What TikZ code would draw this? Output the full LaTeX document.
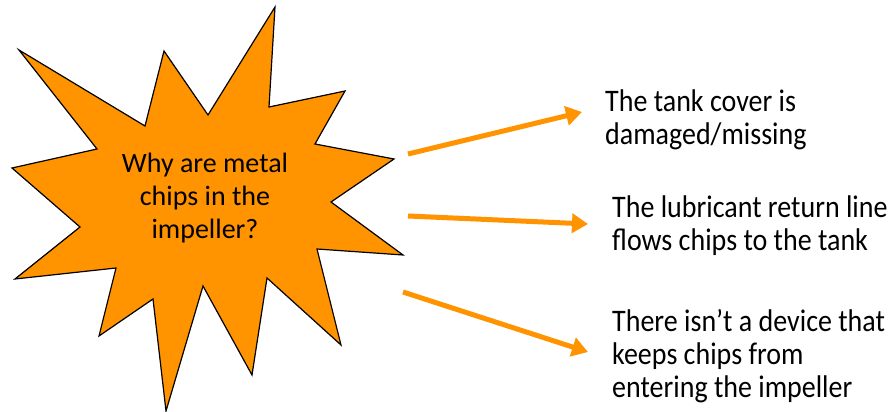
\documentclass[tikz,border=0pt]{standalone}
\usepackage{fontspec}
\setmainfont{Carlito}
\usetikzlibrary{arrows.meta}
\definecolor{burst}{RGB}{255,147,0}
\tikzset{
	reason/.style={anchor=base west, inner sep=0pt, align=left, font=\fontsize{28}{29.5}\selectfont, yscale=1.12, transform shape},
	whyarrow/.style={line width=5pt, color=burst, -{Triangle[length=16pt,width=19pt]}}
}

\begin{document}
\begin{tikzpicture}[x=1pt, y=1pt]
			%%%%% START %%%%%
			
			\useasboundingbox (0, 0) rectangle (891, 412);
			
			% the burst
			\draw[line width=1.2pt, fill=burst, line join=miter] (19, 362) -- (145, 286) -- (164, 361) -- (208, 297)
				-- (275, 405) -- (269, 305) -- (345, 321) -- (315, 268) -- (394, 253) -- (331, 210)
				-- (403, 157) -- (317, 163) -- (341, 67) -- (267, 134) -- (252, 37) -- (203, 126)
				-- (166, 1) -- (153, 113) -- (99, 76) -- (116, 144) -- (15, 133) -- (80, 185)
				-- (12, 244) -- (97, 263) -- cycle;
			\node[inner sep=0pt, align=center, font=\fontsize{28}{33}\selectfont] (question) at (205, 214) {Why are metal\\chips in the\\impeller?};
			
			% the three causes
			\node[reason] (cover) at (605, 267) {The tank cover is\\damaged/missing};
			\node[reason] (returnline) at (612, 161) {The lubricant return line\\flows chips to the tank};
			\node[reason] (device) at (612, 14) {There isn't a device that\\keeps chips from\\entering the impeller};
			
			\coordinate (tail1) at (408, 258);
			\coordinate (head1) at (582, 300);
			\coordinate (tail2) at (408, 196);
			\coordinate (head2) at (588, 188);
			\coordinate (tail3) at (403, 120);
			\coordinate (head3) at (588, 60);
			
			\draw[whyarrow] (tail1) -- (head1);
			\draw[whyarrow] (tail2) -- (head2);
			\draw[whyarrow] (tail3) -- (head3);
			
			%%%%% END %%%%%
		\end{tikzpicture}
\end{document}
